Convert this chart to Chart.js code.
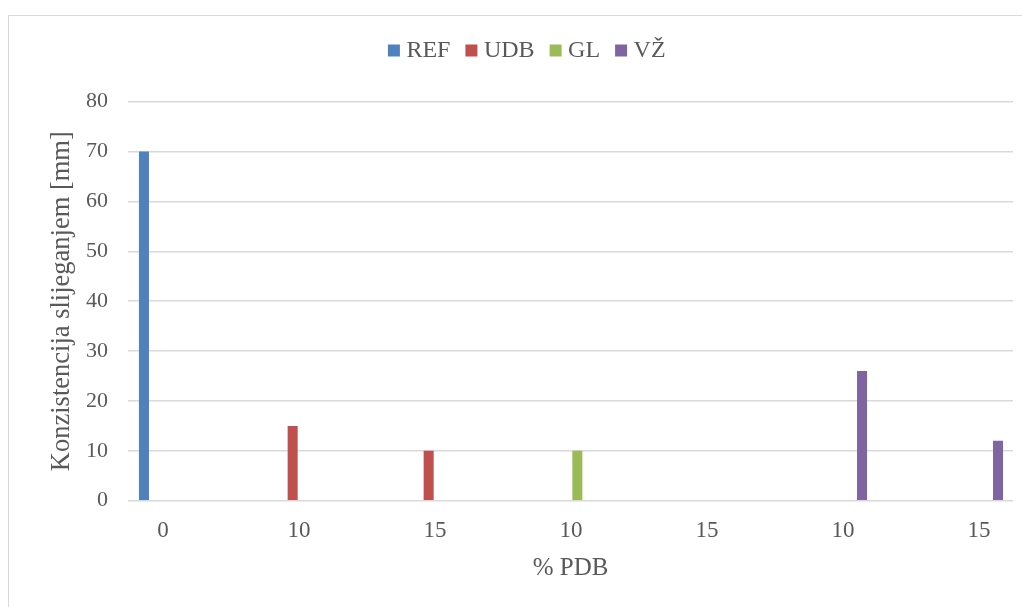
<!DOCTYPE html>
<html>
<head>
<meta charset="utf-8">
<script src="https://cdn.jsdelivr.net/npm/chart.js@4/dist/chart.umd.min.js"></script>
<style>
  html, body { margin: 0; padding: 0; background: #fff; }
  #wrap { position: relative; width: 1022px; height: 607px; }
  #frame { position: absolute; left: 8px; top: 15px; width: 1030px; height: 620px; border: 1px solid #d9d9d9; box-sizing: border-box; }
  canvas { position: absolute; left: 0; top: 0; }
</style>
</head>
<body>
<div id="wrap">
  <div id="frame"></div>
  <canvas id="c" width="1022" height="607"></canvas>
</div>
<script>
const categories = ['0', '10', '15', '10', '15', '10', '15'];
const seriesNames = ['REF', 'UDB', 'GL', 'VŽ'];
const refValues = [70, 0, 0, 0, 0, 0, 0];
const udbValues = [0, 15, 10, 0, 0, 0, 0];
const glValues = [0, 0, 0, 10, 0, 0, 0];
const vzValues = [0, 0, 0, 0, 0, 26, 12];
const yTicks = [0, 10, 20, 30, 40, 50, 60, 70, 80];
const colors = ['#4f81bd', '#c0504d', '#9bbb59', '#8064a2'];

const FONT = "'Liberation Serif', 'Times New Roman', serif";
const TXT = '#595959';

function toPoints(vals) { return vals.map((v, i) => ({ x: i, y: v })); }

const allSeries = [refValues, udbValues, glValues, vzValues];
const datasets = allSeries.map((vals, k) => ({
  label: seriesNames[k],
  data: toPoints(vals),
  backgroundColor: colors[k],
  borderWidth: 0,
  pointStyle: 'rect',
  categoryPercentage: 0.3735,
  barPercentage: 0.79
}));

const legendGap = {
  id: 'legendGap',
  beforeLayout(chart) {
    const lg = chart.legend;
    if (lg && !lg._gapPatched) {
      const orig = lg.fit;
      lg.fit = function () { orig.call(this); this.height += 29.2; };
      lg._gapPatched = true;
    }
  }
};

new Chart(document.getElementById('c'), {
  type: 'bar',
  data: { datasets },
  plugins: [legendGap],
  options: {
    responsive: false,
    animation: false,
    devicePixelRatio: 1,
    layout: { padding: { top: 18, left: 46, right: 9, bottom: 0 } },
    plugins: {
      legend: {
        position: 'top',
        labels: {
          usePointStyle: true,
          boxWidth: 1, boxHeight: 12, padding: 20.5,
          color: TXT,
          font: { family: FONT, size: 24 }
        }
      },
      tooltip: { enabled: false }
    },
    scales: {
      x: {
        type: 'linear',
        offset: false,
        min: -0.2574,
        max: 6.25,
        grid: { display: false, drawTicks: false },
        border: { display: false },
        afterBuildTicks(scale) { scale.ticks = categories.map((_, i) => ({ value: i })); },
        afterFit(scale) { scale.height = 106.3; },
        ticks: {
          padding: 16,
          color: TXT,
          font: { family: FONT, size: 23 },
          callback: (v) => categories[v],
          maxRotation: 0, autoSkip: false
        },
        title: {
          display: true, text: '% PDB', color: TXT,
          font: { family: FONT, size: 25 },
          padding: { top: 0, bottom: 24 }
        }
      },
      y: {
        min: 0, max: 80,
        grid: { color: '#d9d9d9', lineWidth: 1.5, drawTicks: false },
        border: { display: false },
        afterBuildTicks(scale) { scale.ticks = yTicks.map(v => ({ value: v })); },
        afterFit(scale) { scale.width = 82; },
        ticks: {
          padding: 20,
          color: TXT,
          font: { family: FONT, size: 22 }
        },
        title: {
          display: true, text: 'Konzistencija slijeganjem [mm]', color: TXT,
          font: { family: FONT, size: 26.5 },
          padding: { top: 0.1, bottom: 0 }
        }
      }
    }
  }
});
</script>
</body>
</html>
